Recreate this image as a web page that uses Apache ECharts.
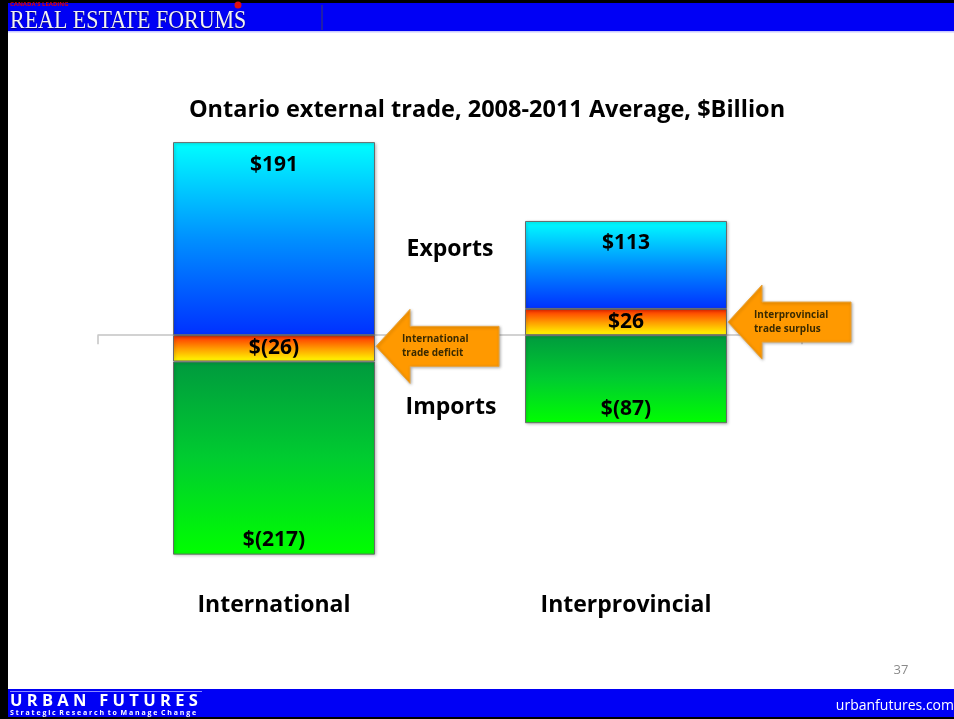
<!DOCTYPE html>
<html><head><meta charset="utf-8">
<script src="https://cdn.jsdelivr.net/npm/echarts@6/dist/echarts.min.js"></script>
<style>html,body{margin:0;padding:0;background:#fff}#c{width:954px;height:719px}</style>
</head><body><div id="c"></div>
<script>
// ---- data ----
const categories = ['International', 'Interprovincial'];
const exportsBn = [191, 113];
const importsBn = [217, 87];
const balanceBn = [-26, 26];
const arrowTexts = [['International', 'trade deficit'], ['Interprovincial', 'trade surplus']];
const titleText = 'Ontario external trade, 2008-2011 Average, $Billion';

// segments derived from the data (balance sits next to zero)
const balanceSeg = balanceBn.slice();
const exportSeg = exportsBn.map((v, i) => v - Math.max(balanceBn[i], 0));
const importSeg = importsBn.map((v, i) => -(v - Math.max(-balanceBn[i], 0)));
const fmt = v => v < 0 ? '$(' + Math.abs(v) + ')' : '$' + v;

const FONT = 'Open Sans';
const lbl = { show: true, color: '#000', fontFamily: FONT, fontWeight: 'bold', fontSize: 21 };
const grad = (stops) => new echarts.graphic.LinearGradient(0, 0, 0, 1, stops.map((c, i) => ({ offset: i / (stops.length - 1), color: c })));
const border = { borderColor: '#6a6a6a', borderWidth: 1, shadowColor: 'rgba(0,0,0,0.25)', shadowBlur: 3, shadowOffsetX: 1, shadowOffsetY: 1 };

const chart = echarts.init(document.getElementById('c'), null, { renderer: 'canvas' });

const staticGraphics = [
  // frame
  { type: 'rect', shape: { x: 0, y: 0, width: 8, height: 719 }, style: { fill: '#000' }, z: 10 },
  { type: 'rect', shape: { x: 0, y: 0, width: 954, height: 3 }, style: { fill: '#000' }, z: 10 },
  { type: 'rect', shape: { x: 8, y: 3, width: 946, height: 28 }, style: { fill: '#0000f5' }, z: 10 },
  { type: 'rect', shape: { x: 8, y: 31, width: 946, height: 1.5 }, style: { fill: '#c8c8ff' }, z: 10 },
  { type: 'line', shape: { x1: 322, y1: 5, x2: 322, y2: 30 }, style: { stroke: '#2a2a90', lineWidth: 1.5 }, z: 11 },
  { type: 'text', x: 10, y: 4, style: { text: "CANADA'S LEADING", fill: '#e00000', font: 'bold 6px "Open Sans"', textVerticalAlign: 'middle' }, z: 11 },
  { type: 'circle', shape: { cx: 238, cy: 5, r: 3.5 }, style: { fill: '#e01010' }, z: 11 },
  { type: 'text', x: 10, y: 21, scaleX: 0.845, style: { text: 'REAL ESTATE FORUMS', fill: '#f2f2f2', font: '26px "Liberation Serif"', textVerticalAlign: 'middle',
      textShadowColor: 'rgba(0,0,0,0.5)', textShadowBlur: 1, textShadowOffsetY: 1 }, z: 11 },
  // footer
  { type: 'rect', shape: { x: 8, y: 689, width: 946, height: 29 }, style: { fill: '#0000f5' }, z: 10 },
  { type: 'rect', shape: { x: 0, y: 717, width: 954, height: 2 }, style: { fill: '#000' }, z: 10 },
  { type: 'line', shape: { x1: 10, y1: 691.5, x2: 202, y2: 691.5 }, style: { stroke: '#8a8aff', lineWidth: 1 }, z: 11 },
  { type: 'text', x: 10, y: 701, style: { text: 'U R B A N   F U T U R E S', fill: '#fff', font: 'bold 16.5px "Open Sans"', textVerticalAlign: 'middle' }, z: 11 },
  { type: 'text', x: 10, y: 713, style: { text: 'S t r a t e g i c  R e s e a r c h  t o  M a n a g e  C h a n g e', fill: '#fff', font: 'bold 7px "Open Sans"', textVerticalAlign: 'middle' }, z: 11 },
  { type: 'text', x: 954, y: 706, style: { text: 'urbanfutures.com', fill: '#fff', font: '14px "Open Sans"', textAlign: 'right', textVerticalAlign: 'middle' }, z: 11 },
  { type: 'text', x: 901, y: 670, style: { text: '37', fill: '#8a8a8a', font: '13px "Open Sans"', textAlign: 'center', textVerticalAlign: 'middle' }, z: 11 },
  // side labels
  { type: 'text', x: 450, y: 249, style: { text: 'Exports', fill: '#000', font: 'bold 23px "Open Sans"', textAlign: 'center', textVerticalAlign: 'middle' }, z: 5 },
  { type: 'text', x: 451, y: 407, style: { text: 'Imports', fill: '#000', font: 'bold 23px "Open Sans"', textAlign: 'center', textVerticalAlign: 'middle' }, z: 5 }
];

chart.setOption({
  animation: false,
  backgroundColor: '#fff',
  title: {
    text: titleText, left: 482, top: 93, textAlign: 'center',
    textStyle: { fontFamily: FONT, fontWeight: 'bold', fontSize: 23.5, color: '#000' }
  },
  grid: { left: 98, right: 152, top: 133, height: 455 },
  xAxis: [
    { type: 'category', data: categories, position: 'bottom',
      axisLine: { onZero: true, lineStyle: { color: '#c4c4c4', width: 1.5 } },
      axisTick: { show: true, length: 9, lineStyle: { color: '#c4c4c4', width: 1.5 } },
      axisLabel: { show: false } },
    { type: 'category', data: categories, position: 'bottom',
      axisLine: { show: false, onZero: false }, axisTick: { show: false },
      axisLabel: { show: true, margin: 6, color: '#000', fontFamily: FONT, fontWeight: 'bold', fontSize: 23 } }
  ],
  yAxis: { type: 'value', min: -250, max: 200, show: false, splitLine: { show: false } },
  series: [
    { name: 'Balance', type: 'bar', stack: 'trade', barWidth: 202, data: balanceSeg,
      itemStyle: Object.assign({ color: grad(['#ff2a00', '#ff9a00', '#ffff00']) }, border),
      label: Object.assign({}, lbl, { position: 'inside', formatter: p => fmt(balanceBn[p.dataIndex]) }) },
    { name: 'Exports', type: 'bar', stack: 'trade', barWidth: 202, data: exportSeg,
      itemStyle: Object.assign({ color: grad(['#00ffff', '#0090ff', '#0030ff']) }, border),
      label: Object.assign({}, lbl, { position: 'insideTop', distance: 12, formatter: p => fmt(exportsBn[p.dataIndex]) }) },
    { name: 'Imports', type: 'bar', stack: 'trade', barWidth: 202, data: importSeg,
      itemStyle: Object.assign({ color: grad(['#009a3e', '#00cc30', '#00ff00']) }, border),
      label: Object.assign({}, lbl, { position: 'insideBottom', distance: 4, formatter: p => fmt(-importsBn[p.dataIndex]) }) }
  ],
  graphic: staticGraphics
});

// arrows anchored to the balance segments
const arrows = [];
categories.forEach((c, i) => {
  const half = 101;
  const center = chart.convertToPixel({ xAxisIndex: 0, yAxisIndex: 0 }, [i, balanceBn[i] / 2]);
  const tx = center[0] + half + 1, ty = center[1] - (balanceBn[i] < 0 ? 2 : 0);
  const hl = 34, hh = 37, sh = 20, len = 123;
  arrows.push({ type: 'polygon', z: 6,
    shape: { points: [[tx, ty], [tx + hl, ty - hh], [tx + hl, ty - sh], [tx + len, ty - sh], [tx + len, ty + sh], [tx + hl, ty + sh], [tx + hl, ty + hh]] },
    style: { fill: '#ff9900', stroke: '#e9a33a', lineWidth: 1, shadowColor: 'rgba(0,0,0,0.3)', shadowBlur: 3, shadowOffsetX: 1, shadowOffsetY: 1 } });
  arrows.push({ type: 'text', z: 7, x: tx + 26, y: ty - 7,
    style: { text: arrowTexts[i][0], fill: '#3a2a00', font: 'bold 10px "Open Sans"', textVerticalAlign: 'middle' } });
  arrows.push({ type: 'text', z: 7, x: tx + 26, y: ty + 7,
    style: { text: arrowTexts[i][1], fill: '#3a2a00', font: 'bold 10px "Open Sans"', textVerticalAlign: 'middle' } });
});
chart.setOption({ graphic: staticGraphics.concat(arrows) });
</script>
</body></html>
